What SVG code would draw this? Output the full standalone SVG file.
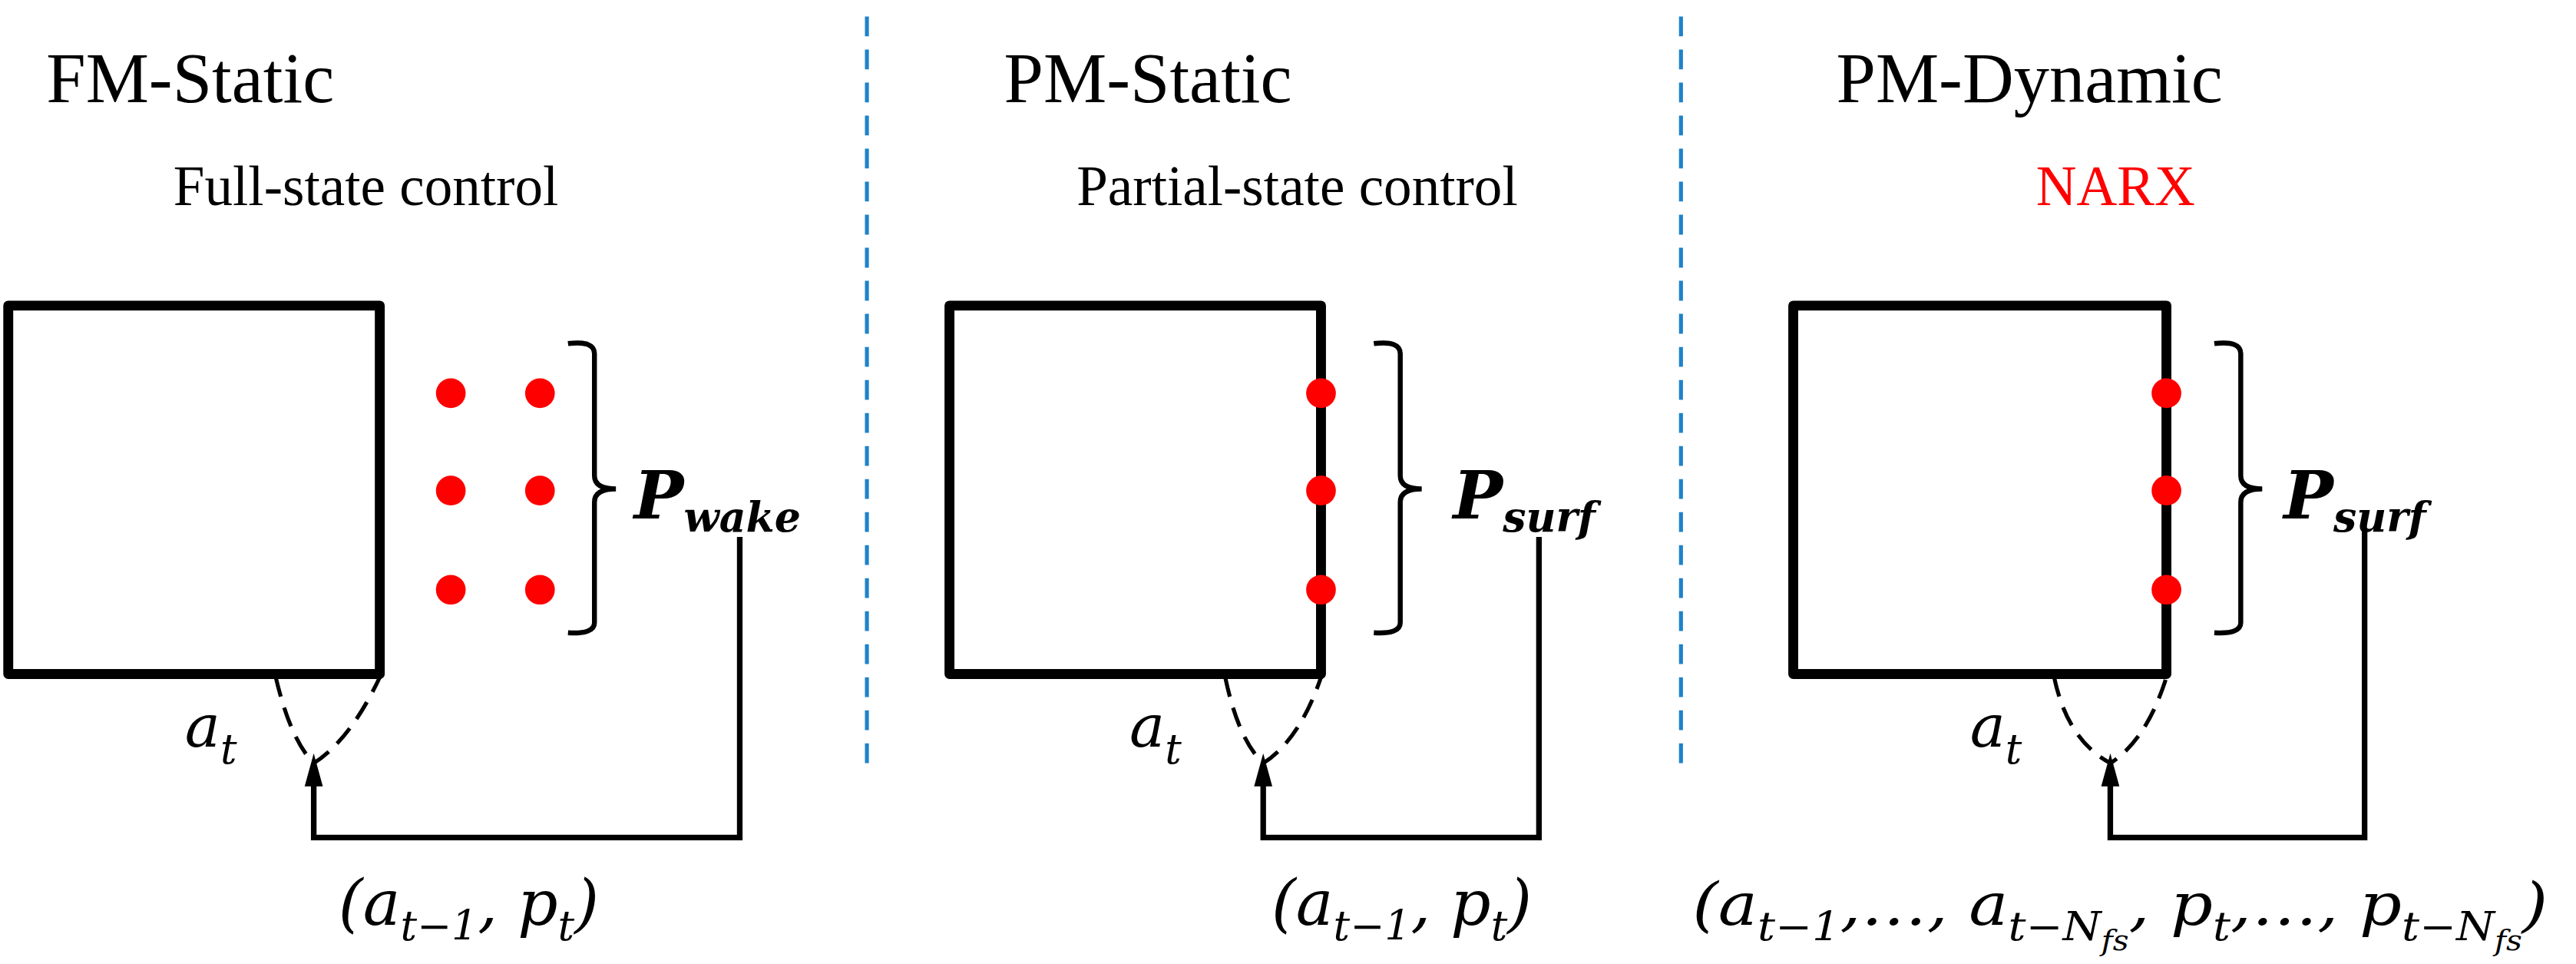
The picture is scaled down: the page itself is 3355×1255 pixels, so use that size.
<svg xmlns="http://www.w3.org/2000/svg" width="3355" height="1255" viewBox="0 0 3355 1255">
<style>
.box{fill:none;stroke:#000;stroke-width:6;stroke-linejoin:round}
.ln{fill:none;stroke:#000;stroke-width:3.4}
.dash{fill:none;stroke:#000;stroke-width:2.4;stroke-dasharray:12,7}
.br{fill:none;stroke:#000;stroke-width:3}
.dot{fill:#f00}
.ah{fill:#000}
.sep{stroke:#1f82c8;stroke-width:2.4;stroke-dasharray:12,8}
.t1{font-family:"Liberation Serif",serif;font-size:43px}
.t2{font-family:"Liberation Serif",serif;font-size:34px}
.m{font-family:"DejaVu Serif","Liberation Serif",serif;font-style:italic}
.pb{font-family:"DejaVu Serif","Liberation Serif",serif;font-style:italic;font-weight:bold}
</style>
<rect width="3355" height="1255" fill="#fff"/>
<g transform="scale(2.1506)">
<g id="separators"><line class="sep" x1="525" y1="10" x2="525" y2="470"/><line class="sep" x1="1018" y1="10" x2="1018" y2="470"/></g>
<g id="fm-static">
<text class="t1" x="28" y="62">FM-Static</text>
<text class="t2" x="105" y="124">Full-state control</text>
<rect class="box" x="5" y="185" width="225" height="223"/>
<circle class="dot" cx="273" cy="238" r="9"/><circle class="dot" cx="327" cy="238" r="9"/>
<circle class="dot" cx="273" cy="297" r="9"/><circle class="dot" cx="327" cy="297" r="9"/>
<circle class="dot" cx="273" cy="357" r="9"/><circle class="dot" cx="327" cy="357" r="9"/>
<path class="br" d="M344,208 Q360,206 360,214 L360,288 Q360,296 373,296 Q360,296 360,304 L360,377 Q360,384 344,383"/>
<text x="384" y="314"><tspan class="pb" font-size="40">P</tspan><tspan class="pb" font-size="25" dy="8">wake</tspan></text>
<text class="m" font-size="36" x="112" y="452">a<tspan font-size="25" dy="10">t</tspan></text>
<text class="m" font-size="38" x="205" y="560">(a<tspan font-size="25" dy="9">t−1</tspan><tspan dy="-9">, p</tspan><tspan font-size="25" dy="9">t</tspan><tspan dy="-9">)</tspan></text>
</g>
<g id="pm-static">
<text class="t1" x="608" y="62">PM-Static</text>
<text class="t2" x="652" y="124">Partial-state control</text>
<rect class="box" x="575" y="185" width="225" height="223"/>
<circle class="dot" cx="800" cy="238" r="9"/><circle class="dot" cx="800" cy="297" r="9"/><circle class="dot" cx="800" cy="357" r="9"/>
<path class="br" d="M832,208 Q848,206 848,214 L848,288 Q848,296 861,296 Q848,296 848,304 L848,377 Q848,384 832,383"/>
<text x="880" y="314"><tspan class="pb" font-size="40">P</tspan><tspan class="pb" font-size="25" dy="8">surf</tspan></text>
<text class="m" font-size="36" x="684" y="452">a<tspan font-size="25" dy="10">t</tspan></text>
<text class="m" font-size="38" x="770" y="560">(a<tspan font-size="25" dy="9">t−1</tspan><tspan dy="-9">, p</tspan><tspan font-size="25" dy="9">t</tspan><tspan dy="-9">)</tspan></text>
</g>
<g id="pm-dynamic">
<text class="t1" x="1112" y="62">PM-Dynamic</text>
<text class="t2" x="1233" y="124" fill="#f00">NARX</text>
<rect class="box" x="1086" y="185" width="226" height="223"/>
<circle class="dot" cx="1312" cy="238" r="9"/><circle class="dot" cx="1312" cy="297" r="9"/><circle class="dot" cx="1312" cy="357" r="9"/>
<path class="br" d="M1341,208 Q1357,206 1357,214 L1357,288 Q1357,296 1370,296 Q1357,296 1357,304 L1357,377 Q1357,384 1341,383"/>
<text x="1383" y="314"><tspan class="pb" font-size="40">P</tspan><tspan class="pb" font-size="25" dy="8">surf</tspan></text>
<text class="m" font-size="36" x="1193" y="452">a<tspan font-size="25" dy="10">t</tspan></text>
<text class="m" font-size="36" x="1025" y="560" textLength="518" lengthAdjust="spacingAndGlyphs">(a<tspan font-size="24" dy="9">t−1</tspan><tspan dy="-9">,…, a</tspan><tspan font-size="24" dy="9">t−N</tspan><tspan font-size="17" dy="6">fs</tspan><tspan dy="-15">, p</tspan><tspan font-size="24" dy="9">t</tspan><tspan dy="-9">,…, p</tspan><tspan font-size="24" dy="9">t−N</tspan><tspan font-size="17" dy="6">fs</tspan><tspan dy="-15">)</tspan></text>
</g>
<g id="connectors">
<path class="dash" d="M167,410 Q176,448 190,462 Q212,448 230,410"/>
<path class="ln" d="M448,325 L448,507 L190,507 L190,472"/>
<polygon class="ah" points="190,456 184.5,476 195.5,476"/>
<path class="dash" d="M742,410 Q750,448 765,462 Q787,448 800,410"/>
<path class="ln" d="M932,325 L932,507 L765,507 L765,472"/>
<polygon class="ah" points="765,456 759.5,476 770.5,476"/>
<path class="dash" d="M1244,410 Q1252,448 1278,462 Q1300,448 1312,410"/>
<path class="ln" d="M1432,320 L1432,507 L1278,507 L1278,472"/>
<polygon class="ah" points="1278,456 1272.5,476 1283.5,476"/>
</g>
</g>
</svg>
